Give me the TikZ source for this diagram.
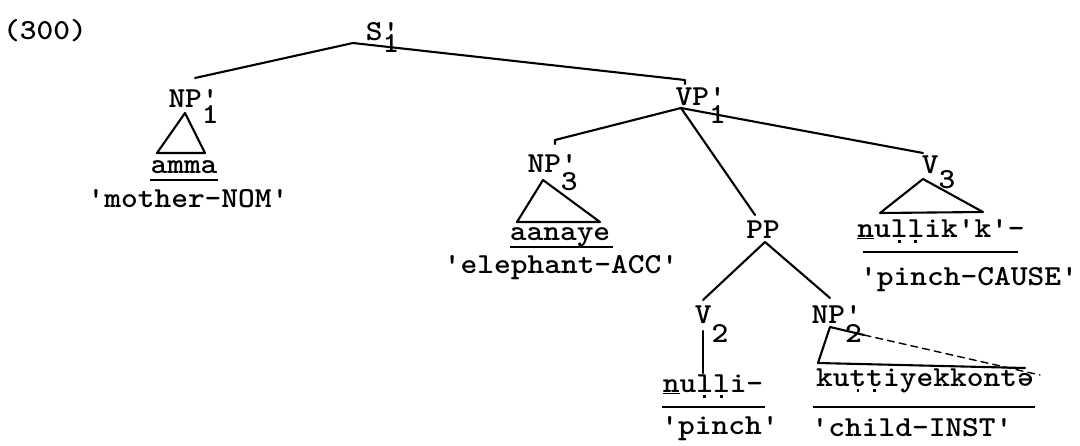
\documentclass[tikz,border=0pt]{standalone}
\usepackage{graphicx}
\newcommand\tw[1]{\scalebox{1.1}[1]{\fontsize{29}{32}\selectfont\ttfamily\bfseries #1}}
\newcommand\udot[1]{{\oalign{#1\crcr\hidewidth\rule{2.6pt}{2.6pt}\hidewidth}}}
\newcommand\sq{\textquotesingle}
\newcommand\schwa{\rotatebox[origin=c]{180}{e}}
% prime over subscript, #3 = drop of the subscript baseline
\newcommand\ps[3]{\vtop{\baselineskip=#3\lineskiplimit=-100pt\lineskip=0pt\halign{\hfil##\hfil\cr#1\cr#2\cr}}}
\tikzset{
  txt/.style={inner sep=0pt, anchor=base},
  lab/.style={inner sep=0pt, anchor=base west},
  edge/.style={line width=2.1pt, line cap=round, line join=round},
  uline/.style={line width=1.7pt},
}
\begin{document}
\begin{tikzpicture}[x=1pt,y=-1pt]
\useasboundingbox (0,0) rectangle (1080,445);
% labels
\node[txt] (ex) at (45,39) {\tw{(300)}};
\node[lab] (s) at (365.6,40) {\tw{S\ps{\sq}{1}{12pt}}};
\node[lab] (np1) at (168.3,107) {\tw{NP\ps{\sq}{1}{16pt}}};
\node[lab] (vp1) at (675.3,105) {\tw{VP\ps{\sq}{1}{18pt}}};
\node[lab] (np3) at (527.3,172) {\tw{NP\ps{\sq}{3}{18pt}}};
\node[lab] (v3) at (921.6,173) {\tw{V\ps{}{3}{15pt}}};
\node[txt] (pp) at (763,238) {\tw{PP}};
\node[lab] (v2) at (694.6,323) {\tw{V\ps{}{2}{19pt}}};
\node[lab] (np2) at (811.3,323) {\tw{NP\ps{\sq}{2}{19pt}}};
% words
\node[txt] (amma) at (184,173) {\tw{amma}};
\node[txt] (mother) at (188,207) {\tw{\sq mother-NOM\sq}};
\node[txt] (aanaye) at (560,240) {\tw{aanaye}};
\node[txt] (eleph) at (561,273) {\tw{\sq elephant-ACC\sq}};
\node[txt] (nullikk) at (941,237) {\tw{\underline{n}u\udot{l}\udot{l}ik\sq k\sq-}};
\node[txt] (pcause) at (969,285) {\tw{\sq pinch-CAUSE\sq}};
\node[txt] (nulli) at (713,392) {\tw{\underline{n}u\udot{l}\udot{l}i-}};
\node[txt] (pinch) at (720,434) {\tw{\sq pinch\sq}};
\node[txt] (kutti) at (925,386) {\tw{ku\udot{t}\udot{t}iyekkont\schwa}};
\node[txt] (child) at (912,436) {\tw{\sq child-INST\sq}};
% junction coordinates
\coordinate (sJ) at (353,43);
\coordinate (np1T) at (195,78);
\coordinate (vp1T) at (685,80);
\coordinate (vpJ) at (681,108);
\coordinate (np3T) at (555,140);
\coordinate (ppT) at (755,215);
\coordinate (v3T) at (923,153);
\coordinate (ppJ) at (765,242);
\coordinate (v2T) at (703,300);
\coordinate (np2T) at (830,298);
\coordinate (v2B) at (703,331);
\coordinate (nulliT) at (703,373);
% tree edges
\draw[edge] (np1T) -- (sJ) -- (vp1T) -- ++(0,4);
\draw[edge] (np3T) ++(0,4) -- (np3T) -- (vpJ);
\draw[edge] (vpJ) -- (ppT);
\draw[edge] (vpJ) -- (v3T);
\draw[edge] (v2T) -- (ppJ) -- (np2T);
\draw[edge] (v2B) -- (nulliT);
% triangles
\coordinate (t1a) at (185,113); \coordinate (t1l) at (157,153); \coordinate (t1r) at (205,153);
\draw[edge] (t1a) -- (t1l) -- (t1r) -- cycle;
\coordinate (t3a) at (543,180); \coordinate (t3l) at (517,222); \coordinate (t3r) at (600,222);
\draw[edge] (t3a) -- (t3l) -- (t3r) -- cycle;
\coordinate (tva) at (923,179); \coordinate (tvl) at (880,213); \coordinate (tvr) at (983,212);
\draw[edge] (tva) -- (tvl) -- (tvr) -- cycle;
\coordinate (t2a) at (830,327); \coordinate (t2l) at (818,363); \coordinate (t2b) at (1025,368);
\coordinate (t2r) at (1040,375); \coordinate (t2m) at (864,335);
\draw[edge] (t2m) -- (t2a) -- (t2l) -- (t2b);
\draw[edge, line width=1.4pt, dash pattern=on 7pt off 5pt] (t2m) -- (t2r);
% underlines
\draw[uline] (150,180) -- (218,180);
\draw[uline] (510,247) -- (613,247);
\draw[uline] (863,252) -- (1018,252);
\draw[uline] (662,407) -- (765,407);
\draw[uline] (813,407) -- (1035,407);
\end{tikzpicture}
\end{document}
